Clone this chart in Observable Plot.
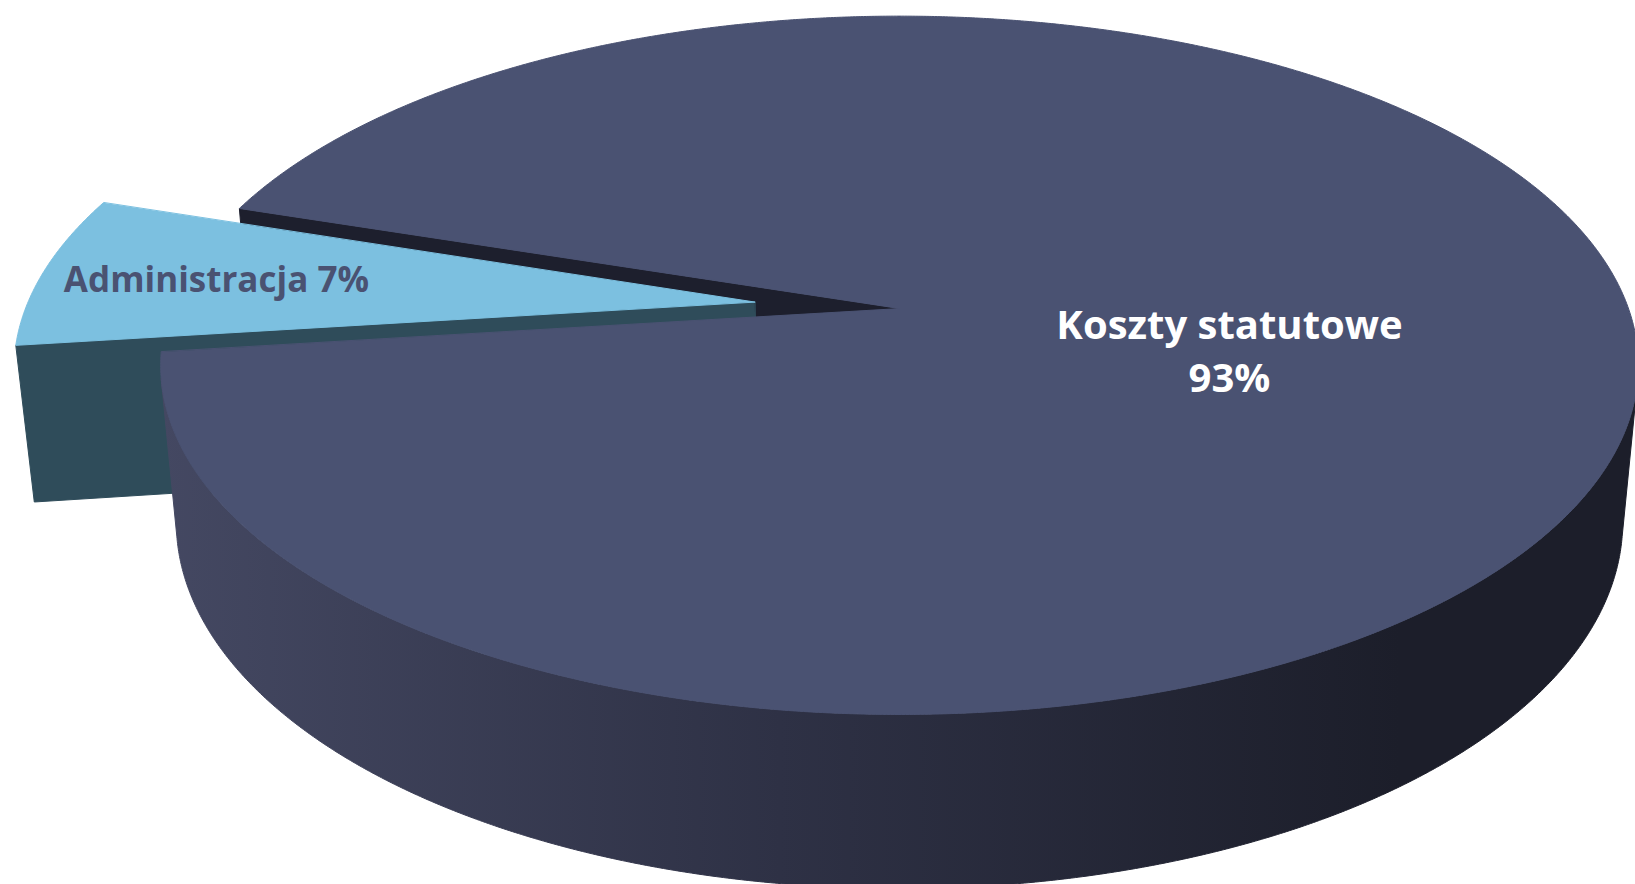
<!DOCTYPE html>
<html>
<head>
<meta charset="utf-8">
<script src="https://cdn.jsdelivr.net/npm/d3@7"></script>
<script src="https://cdn.jsdelivr.net/npm/@observablehq/plot@0.6"></script>
<style>
  html, body { margin: 0; padding: 0; background: #ffffff; overflow: hidden; }
  #chart svg { display: block; }
</style>
</head>
<body>
<div id="chart"></div>
<script>
// ---- data ----
const categories = ["Koszty statutowe", "Administracja"];
const shares = [93, 7];
const valueLabels = ["93%", "7%"];
const labelJoin = ["\n", " "];

// ---- style ----
const explode = [0, 0.2];
const topColors = ["#4a5272", "#7cc0e0"];
const cutColors = ["#1d1f2d", "#2f4c5a"];
const sideColors = ["url(#sideGrad)", "#2f4c5a"];
const labelColors = ["#ffffff", "#4a5272"];
const labelSizes = [40, 35];
const labelLineHeight = [1.325, 1.2];
const labelRadius = [0.459, 0.755];
const labelAngleShift = [9.2, 0];

const W = 1635, H = 884;
const cfg = {cx: 899, cy: 308, f: 3965, D: 5.439, phi: Math.asin(0.4663), h: 0.245, start: 198};
const rad = Math.PI / 180;
const sP = Math.sin(cfg.phi), cP = Math.cos(cfg.phi);
const cam = [0, cfg.D * sP, cfg.D * cP];

function project(X, Y, Z) {
  const yc = Y * cP - Z * sP;
  const zc = cfg.D - Y * sP - Z * cP;
  return {x: cfg.cx + cfg.f * X / zc, y: cfg.cy - cfg.f * yc / zc, depth: zc};
}

const total = d3.sum(shares);
let acc = cfg.start;
const slices = categories.map((c, i) => {
  const a0 = acc, a1 = acc + shares[i] / total * 360;
  acc = a1;
  const mid = (a0 + a1) / 2;
  return {i, name: c, a0, a1, mid, ox: explode[i] * Math.cos(mid * rad), oz: explode[i] * Math.sin(mid * rad)};
});

function arc(s, from, to, Y, step = 0.25) {
  const n = Math.max(2, Math.ceil(Math.abs(to - from) / step));
  const pts = [];
  for (let k = 0; k <= n; k++) {
    const t = (from + (to - from) * k / n) * rad;
    pts.push(project(s.ox + Math.cos(t), Y, s.oz + Math.sin(t)));
  }
  return pts;
}

const cutFaces = [], sideFaces = [], topFaces = [];
for (const s of slices) {
  // top face
  topFaces.push({slice: s.i, pts: [project(s.ox, 0, s.oz), ...arc(s, s.a0, s.a1, 0)]});
  // outer side: visible runs
  const step = 0.25;
  let run = null;
  const runs = [];
  for (let a = s.a0; a <= s.a1 + 1e-9; a += step) {
    const t = a * rad;
    const nx = Math.cos(t), nz = Math.sin(t);
    const px = s.ox + nx, pz = s.oz + nz;
    const vis = nx * (cam[0] - px) + nz * (cam[2] - pz) > 0;
    if (vis) { if (!run) run = [a, a]; else run[1] = a; }
    else if (run) { runs.push(run); run = null; }
  }
  if (run) runs.push(run);
  for (const [r0, r1] of runs) {
    const topArc = arc(s, r0 - 0.5, r1 + 0.5, 0);
    const botArc = arc(s, r0 - 0.5, r1 + 0.5, -cfg.h).reverse();
    sideFaces.push({slice: s.i, pts: [...topArc, ...botArc]});
  }
  // radial cut faces
  for (const [ang, nAng] of [[s.a0, s.a0 - 90], [s.a1, s.a1 + 90]]) {
    const t = ang * rad, nt = nAng * rad;
    const px = s.ox + 0.5 * Math.cos(t), py = -cfg.h / 2, pz = s.oz + 0.5 * Math.sin(t);
    const dot = Math.cos(nt) * (cam[0] - px) + Math.sin(nt) * (cam[2] - pz);
    if (dot <= 0) continue;
    const pts = [
      project(s.ox, 0, s.oz),
      project(s.ox + Math.cos(t), 0, s.oz + Math.sin(t)),
      project(s.ox + Math.cos(t), -cfg.h, s.oz + Math.sin(t)),
      project(s.ox, -cfg.h, s.oz)
    ];
    cutFaces.push({slice: s.i, pts, depth: project(px, py, pz).depth});
  }
}
cutFaces.sort((a, b) => b.depth - a.depth);

function faceMark(face, color) {
  return Plot.line(face.pts, {
    x: "x", y: "y", curve: "linear-closed",
    fill: color, stroke: color, strokeWidth: 1, strokeLinejoin: "round"
  });
}

const marks = [
  ...cutFaces.map(f => faceMark(f, cutColors[f.slice])),
  ...sideFaces.map(f => faceMark(f, sideColors[f.slice])),
  ...topFaces.map(f => faceMark(f, topColors[f.slice]))
];

// labels
const labelData = slices.map(s => {
  const t = (s.mid + labelAngleShift[s.i]) * rad, r = labelRadius[s.i];
  const p = project(s.ox + r * Math.cos(t), 0, s.oz + r * Math.sin(t));
  return {x: p.x, y: p.y, text: categories[s.i] + labelJoin[s.i] + valueLabels[s.i], i: s.i};
});
for (const d of labelData) {
  marks.push(Plot.text([d], {
    x: "x", y: "y", text: "text",
    fill: labelColors[d.i], fontSize: labelSizes[d.i], fontWeight: "bold",
    fontFamily: "'Open Sans', 'Noto Sans', sans-serif", lineHeight: labelLineHeight[d.i],
    textAnchor: "middle"
  }));
}

const svg = Plot.plot({
  width: W, height: H, margin: 0,
  x: {domain: [0, W], range: [0, W], axis: null},
  y: {domain: [0, H], range: [0, H], axis: null},
  style: {background: "#ffffff", overflow: "hidden"},
  marks
});

const defs = d3.select(svg).insert("defs", ":first-child");
const g = defs.append("linearGradient")
  .attr("id", "sideGrad").attr("gradientUnits", "userSpaceOnUse")
  .attr("x1", 160).attr("x2", 1400).attr("y1", 0).attr("y2", 0);
g.append("stop").attr("offset", "0").attr("stop-color", "#444862");
g.append("stop").attr("offset", "0.5").attr("stop-color", "#2e3145");
g.append("stop").attr("offset", "1").attr("stop-color", "#1c1e2a");

document.getElementById("chart").appendChild(svg);
</script>
</body>
</html>
